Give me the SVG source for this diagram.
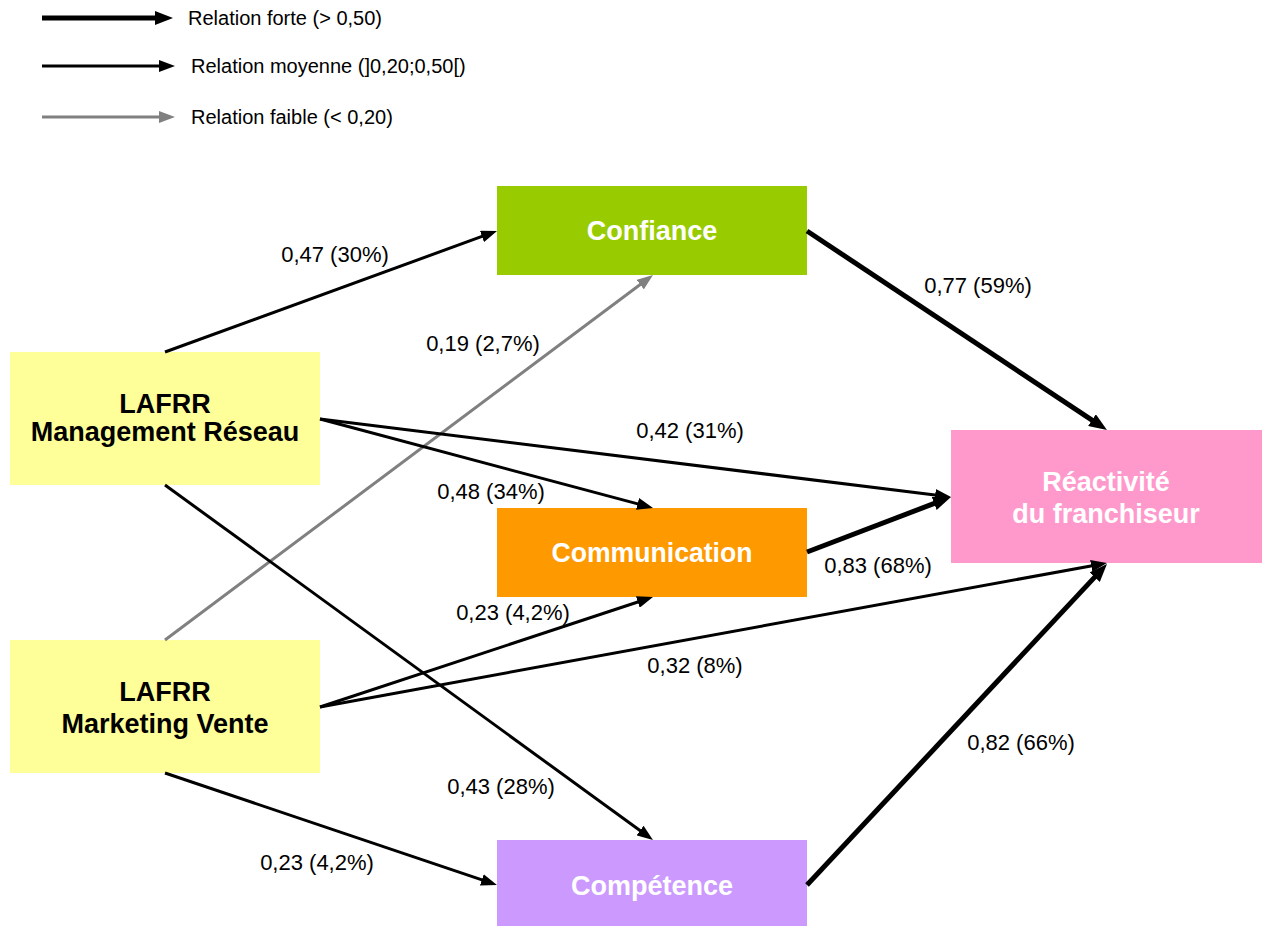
<svg xmlns="http://www.w3.org/2000/svg" width="1263" height="926" viewBox="0 0 1263 926">
<style>
.lbl{font-family:"Liberation Sans",Arial,sans-serif;font-size:22px;fill:#000;text-anchor:middle}
.leg{font-family:"Liberation Sans",Arial,sans-serif;font-size:20px;fill:#000}
.nt{font-family:"Liberation Sans",Arial,sans-serif;font-size:27px;font-weight:bold;fill:#fff;text-anchor:middle}
.ntb{font-family:"Liberation Sans",Arial,sans-serif;font-size:27px;font-weight:bold;fill:#000;text-anchor:middle}
.med{stroke:#000;stroke-width:3;fill:none;marker-end:url(#am)}
.thk{stroke:#000;stroke-width:5;fill:none;marker-end:url(#at)}
.weak{stroke:#808080;stroke-width:3;fill:none;marker-end:url(#ag)}
</style>
<defs>
<marker id="am" markerUnits="userSpaceOnUse" markerWidth="16" markerHeight="12" refX="8" refY="6" orient="auto"><path d="M0,0 L16,6 L0,12 z" fill="#000"/></marker>
<marker id="at" markerUnits="userSpaceOnUse" markerWidth="18" markerHeight="14" refX="10" refY="7" orient="auto"><path d="M0,0 L18,7 L0,14 z" fill="#000"/></marker>
<marker id="ag" markerUnits="userSpaceOnUse" markerWidth="16" markerHeight="12" refX="8" refY="6" orient="auto"><path d="M0,0 L16,6 L0,12 z" fill="#808080"/></marker>
</defs>
<rect width="1263" height="926" fill="#fff"/>
<g id="legend">
<line x1="42" y1="18" x2="165" y2="18" class="thk"/>
<text x="188" y="25" class="leg">Relation forte (&gt; 0,50)</text>
<line x1="42" y1="66" x2="167" y2="66" class="med"/>
<text x="191" y="73" class="leg">Relation moyenne (]0,20;0,50[)</text>
<line x1="42" y1="117" x2="167" y2="117" class="weak"/>
<text x="191" y="124" class="leg">Relation faible (&lt; 0,20)</text>
</g>
<g id="node-confiance">
<rect x="497" y="186" width="310" height="89" fill="#99CC00"/>
<text x="652" y="240" class="nt">Confiance</text>
</g>
<g id="node-communication">
<rect x="497" y="508" width="310" height="89" fill="#FF9900"/>
<text x="652" y="562" class="nt" textLength="201" lengthAdjust="spacingAndGlyphs">Communication</text>
</g>
<g id="node-competence">
<rect x="497" y="840" width="310" height="86" fill="#CC99FF"/>
<text x="652" y="895" class="nt">Compétence</text>
</g>
<g id="node-reactivite">
<rect x="951" y="430" width="311" height="133" fill="#FF99CC"/>
<text x="1106" y="491" class="nt">Réactivité</text>
<text x="1106" y="523" class="nt">du franchiseur</text>
</g>
<g id="node-management">
<rect x="10" y="352" width="310" height="133" fill="#FFFF99"/>
<text x="165" y="413" class="ntb">LAFRR</text>
<text x="165" y="441" class="ntb">Management Réseau</text>
</g>
<g id="node-marketing">
<rect x="10" y="640" width="310" height="133" fill="#FFFF99"/>
<text x="165" y="701" class="ntb">LAFRR</text>
<text x="165" y="733" class="ntb">Marketing Vente</text>
</g>
<g id="connectors">
<line x1="165" y1="352" x2="489.5" y2="233.7" class="med"/>
<line x1="165" y1="640" x2="646.6" y2="279.8" class="weak"/>
<line x1="807" y1="231" x2="1100.3" y2="425.6" class="thk"/>
<line x1="320" y1="419" x2="943.1" y2="496" class="med"/>
<line x1="320" y1="419" x2="645.3" y2="505.9" class="med"/>
<line x1="807" y1="552" x2="943.5" y2="499.9" class="thk"/>
<line x1="320" y1="707" x2="645.4" y2="599.5" class="med"/>
<line x1="320" y1="707" x2="1099.1" y2="564.4" class="med"/>
<line x1="165" y1="485" x2="646.5" y2="835.3" class="med"/>
<line x1="165" y1="773" x2="489.4" y2="882.4" class="med"/>
<line x1="807" y1="885" x2="1101.5" y2="569.9" class="thk"/>
</g>
<g id="labels">
<text x="335" y="262" class="lbl">0,47 (30%)</text>
<text x="483" y="351" class="lbl">0,19 (2,7%)</text>
<text x="978" y="293" class="lbl">0,77 (59%)</text>
<text x="690" y="438" class="lbl">0,42 (31%)</text>
<text x="491" y="499" class="lbl">0,48 (34%)</text>
<text x="878" y="573" class="lbl">0,83 (68%)</text>
<text x="513" y="620" class="lbl">0,23 (4,2%)</text>
<text x="695" y="673" class="lbl">0,32 (8%)</text>
<text x="1021" y="750" class="lbl">0,82 (66%)</text>
<text x="501" y="794" class="lbl">0,43 (28%)</text>
<text x="317" y="870" class="lbl">0,23 (4,2%)</text>
</g>
</svg>
